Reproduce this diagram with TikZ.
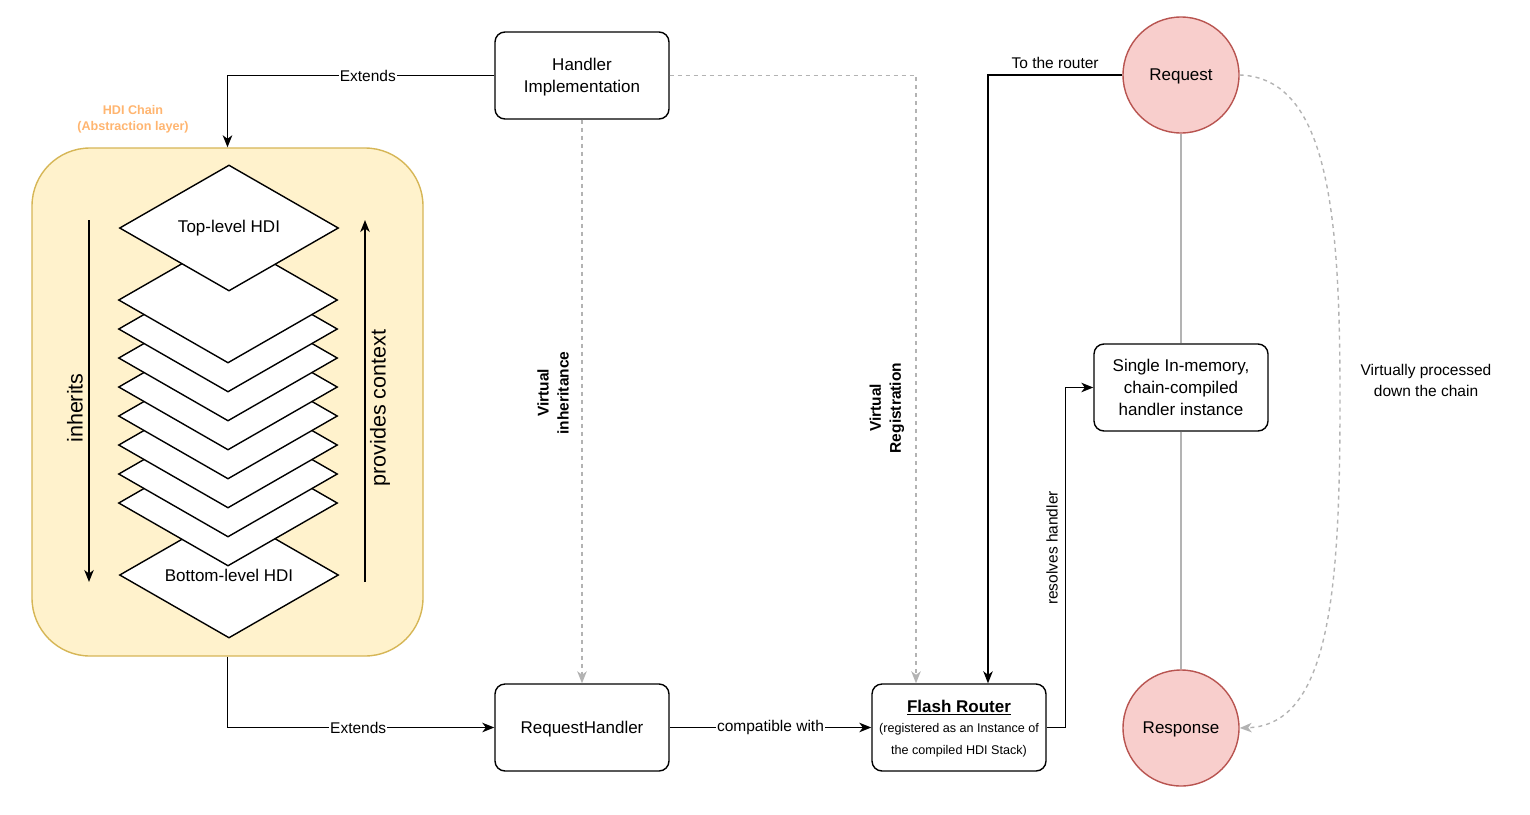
\documentclass[tikz,border=0pt]{standalone}
\usepackage{fontspec}
\setmainfont{Liberation Sans}
\usetikzlibrary{arrows.meta,shapes.geometric}
\definecolor{chainfill}{HTML}{FFF2CC}
\definecolor{chainline}{HTML}{D6B656}
\definecolor{circfill}{HTML}{F8CECC}
\definecolor{circline}{HTML}{B85450}
\definecolor{chainlbl}{HTML}{FFB570}
\definecolor{dashgray}{HTML}{B3B3B3}
\begin{document}
\begin{tikzpicture}[x=1pt,y=-1pt,
  box/.style={draw, rounded corners=10pt, line width=1.4pt, minimum width=174pt, minimum height=87pt, inner sep=0pt, align=center, fill=white, font=\fontsize{17}{22}\selectfont},
  circ/.style={circle, draw=circline, fill=circfill, line width=1.4pt, minimum size=116pt, inner sep=0pt, text depth=0pt, font=\fontsize{17}{21}\selectfont},
  layer/.style={diamond, draw, fill=white, line width=1.4pt, minimum width=219pt, minimum height=126pt, inner sep=0pt, aspect=1.74, font=\fontsize{17}{21}\selectfont},
  conn/.style={line width=1.4pt, -{Stealth[length=12pt,width=9.5pt,inset=3.5pt]}},
  dashconn/.style={line width=1.4pt, draw=dashgray, dash pattern=on 4pt off 4pt, -{Stealth[length=12pt,width=9.5pt,inset=3.5pt]}},
  plainline/.style={line width=1.4pt, draw=dashgray},
  elabel/.style={fill=white, inner sep=1pt, font=\fontsize{15.5}{19}\selectfont},
  vlabel/.style={rotate=90, align=center, font=\bfseries\fontsize{15.5}{20}\selectfont},
  biglabel/.style={rotate=90, font=\fontsize{21.5}{26}\selectfont}
]
\useasboundingbox (0,0) rectangle (1530,814);

% HDI chain container
\node[draw=chainline, fill=chainfill, line width=1.4pt, rounded corners=58pt, minimum width=391pt, minimum height=508pt, inner sep=0pt] (chain) at (227.5,402) {};
\node[font=\bfseries\fontsize{12.6}{16}\selectfont, text=chainlbl, align=center] (chaintitle) at (133,119) {HDI Chain\\(Abstraction layer)};

% stack of diamonds
\node[layer] (bot) at (229,575) {Bottom-level HDI};
\foreach \i in {7,6,...,0} {
  \node[layer] (d\i) at (228,{300+29*\i}) {};
}
\node[layer] (top) at (229,228) {Top-level HDI};

% inner arrows
\coordinate (inhA) at (89,220);
\coordinate (inhB) at (89,582);
\draw[conn] (inhA) -- (inhB);
\node[biglabel] (inhlbl) at (75,408) {inherits};
\coordinate (ctxA) at (365,582);
\coordinate (ctxB) at (365,220);
\draw[conn] (ctxA) -- (ctxB);
\node[biglabel] (ctxlbl) at (380,408) {provides context};

% boxes
\node[box, text depth=0pt] (hi) at (582,75.5) {Handler\\Implementation};
\node[box, text depth=0pt] (rh) at (582,727.5) {RequestHandler};
\node[box, text depth=0pt] (fr) at (959,727.5) {{\bfseries\underline{Flash Router}}\\[-2pt]{\fontsize{12.6}{22}\selectfont (registered as an Instance of}\\[0pt]{\fontsize{12.6}{22}\selectfont the compiled HDI Stack)}};
\node[box] (sm) at (1181,387.5) {Single In-memory,\\chain-compiled\\handler instance};
\node[circ] (req) at (1181,75) {Request};
\node[circ] (resp) at (1181,728) {Response};

% connectors
\draw[conn] (hi.west) -| node[elabel, pos=0.237] {Extends} (chain.north);
\draw[conn] (chain.south) |- node[elabel, pos=0.745] {Extends} (rh.west);
\draw[dashconn] (hi.south) -- (rh.north);
\node[vlabel] (vinh) at (553,393) {Virtual\\inheritance};
\draw[dashconn] (hi.east) -| ([xshift=-43pt]fr.north);
\node[vlabel] (vreg) at (887,408) {Virtual\\Registration};
\draw[conn] (rh.east) -- node[elabel] {compatible with} (fr.west);
\draw[conn] (req.west) -| node[pos=0.25, above=6pt, font=\fontsize{15.5}{19}\selectfont, inner sep=0pt] {To the router} ([xshift=29pt]fr.north);
\draw[conn] (fr.east) -- ++(19,0) |- (sm.west);
\node[rotate=90, font=\fontsize{15.5}{19}\selectfont] (reslbl) at (1052,548) {resolves handler};
\draw[plainline] (req.south) -- (sm.north);
\draw[plainline] (sm.south) -- (resp.north);
\draw[dashconn] (req.east) .. controls (1330,78) and (1340,220) .. (1340,400) .. controls (1340,590) and (1330,725) .. (resp.east);
\node[align=center, font=\fontsize{15.5}{21}\selectfont] (vproc) at (1426,380) {Virtually processed\\down the chain};
\end{tikzpicture}
\end{document}
